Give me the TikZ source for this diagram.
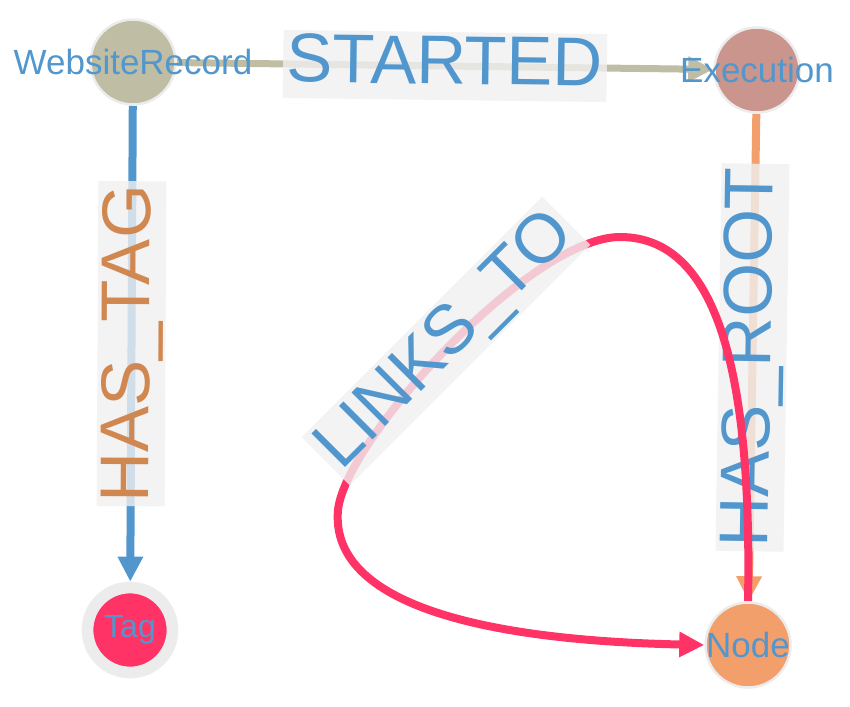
\documentclass[tikz,border=0pt]{standalone}
\usepackage{fontspec}
\setmainfont{Liberation Sans}
\usetikzlibrary{arrows.meta,backgrounds}
\definecolor{txtblue}{RGB}{81,151,206}
\definecolor{tagbrown}{RGB}{208,135,80}
\definecolor{wrfill}{RGB}{191,189,163}
\definecolor{exfill}{RGB}{201,149,140}
\definecolor{tagfill}{RGB}{255,51,102}
\definecolor{ndfill}{RGB}{242,159,108}
\definecolor{ringgray}{RGB}{236,236,236}
\definecolor{boxgray}{RGB}{240,240,240}

\begin{document}
\begin{tikzpicture}[x=1pt, y=-1pt,
		ent/.style={circle, minimum size=85pt, inner sep=0pt, draw=ringgray, line width=2.5pt},
		entlabel/.style={text=txtblue, font=\fontsize{35}{40}\selectfont},
		rel/.style={line width=8pt, -{Triangle[length=25pt,width=24pt]}},
		relbox/.style={fill=boxgray, fill opacity=0.8, text opacity=1, inner xsep=4pt, inner ysep=2pt,
			font=\fontsize{69}{74}\selectfont, text height=50pt, text depth=14pt}]
		\useasboundingbox (0,0) rectangle (850,706);
		\node [ent, fill=wrfill, label={[entlabel]center:WebsiteRecord}] (wr) at (133,62) {};
		\node [ent, fill=exfill, label={[entlabel]center:Execution}] (ex) at (757,70) {};
		\node [ent, fill=tagfill, line width=11.7pt, label={[entlabel, font=\fontsize{32}{38}\selectfont]center:Tag}] (tag) at (130,630) {};
		\node [ent, fill=ndfill, label={[entlabel]center:Node}] (nd) at (748,645) {};
		\begin{pgfonlayer}{background}
		\draw [rel, wrfill, line width=7pt] (wr) -- node [relbox, sloped, midway, text=txtblue] {STARTED} (ex);
		\draw [rel, txtblue] (wr) -- node [relbox, sloped, midway, text=tagbrown] {HAS\_TAG} (tag);
		\draw [rel, ndfill] (ex) -- node [relbox, sloped, midway, text=txtblue] {HAS\_ROOT} (nd);
		\draw [rel, tagfill] (nd.north) .. controls (752,380) and (720,237) .. (620,237)
			.. controls (530,237) and (345,440) .. (338,510)
			.. controls (330,600) and (470,640) .. (nd.west);
		\node [relbox, rotate=45, text=txtblue] (lt) at (446,341) {LINKS\_TO};
		\end{pgfonlayer}
	\end{tikzpicture}
\end{document}
